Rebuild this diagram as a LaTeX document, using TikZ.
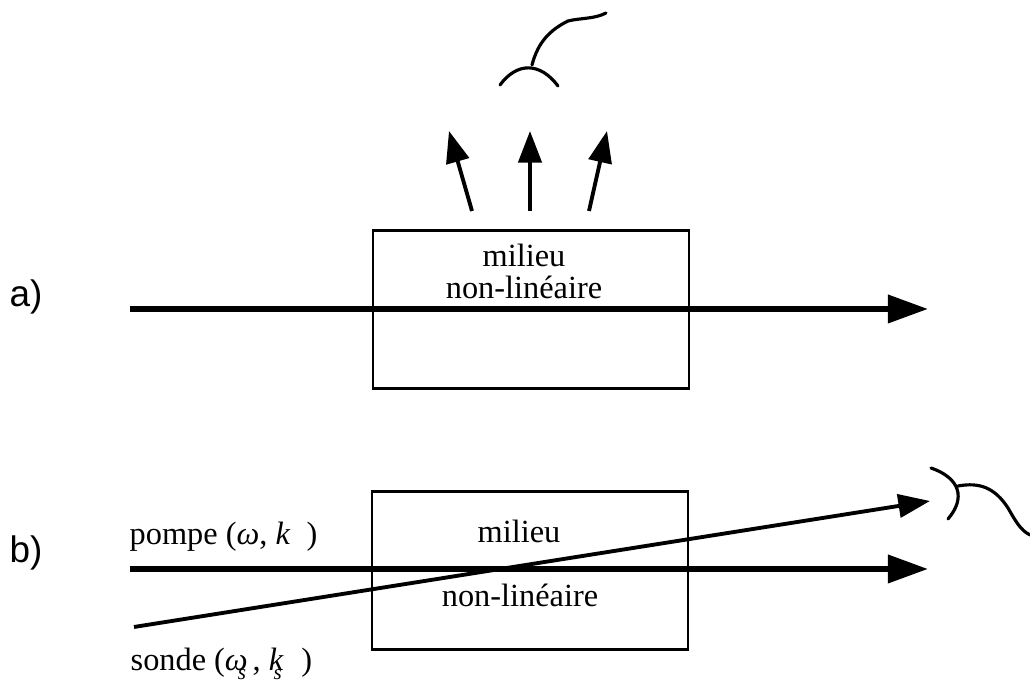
\documentclass[tikz,border=0pt]{standalone}
\usepackage{fontspec}
\setmainfont{Liberation Serif}
\newfontfamily\labelfont{Liberation Sans}
\usetikzlibrary{arrows.meta}
\tikzset{
  milieu/.style={draw,line width=.75pt,minimum width=3.16cm,minimum height=1.58cm,inner sep=0pt},
  beam/.style={line width=1.6pt,-{Triangle[length=11.4pt,width=7.8pt]}},
  thinbeam/.style={line width=1.1pt,-{Triangle[length=9pt,width=6.6pt]}},
  wire/.style={line width=.9pt,line cap=round},
  txt/.style={font=\fontsize{9.2}{9.1}\selectfont,inner sep=0pt,align=center},
  letter/.style={font=\labelfont\fontsize{10.5}{12}\selectfont,inner sep=0pt}
}
\newcommand{\sindex}{\llap{\raisebox{-.6ex}{\fontsize{6}{6}\selectfont\itshape s\hspace{.5pt}}}}
\begin{document}
\begin{tikzpicture}
\useasboundingbox (0,0) rectangle (10.30,6.82);
\node[letter] (la) at (.26,3.85) {a)};
\node[letter] (lb) at (.26,1.29) {b)};
\node[milieu] (boxa) at (5.31,3.725) {};
\node[milieu] (boxb) at (5.30,1.115) {};
\node[txt] (texta) at (5.24,4.11) {milieu\\non-linéaire};
\node[txt,anchor=base] (textb1) at (5.19,1.39) {milieu};
\node[txt,anchor=base] (textb2) at (5.20,.75) {non-linéaire};
\node[txt,anchor=base west] (pompe) at (1.29,1.37) {pompe (\textit{ω}, \textit{k}\hspace{.5em})};
\node[txt,anchor=base west] (sonde) at (1.30,.11) {sonde (\textit{ω}\sindex\hspace{.15em}, \textit{k}\sindex\hspace{.55em})};
% beams
\coordinate (a0) at (1.30,3.73);
\coordinate (a1) at (9.28,3.73);
\coordinate (p0) at (1.30,1.13);
\coordinate (p1) at (9.28,1.13);
\coordinate (s0) at (1.34,.55);
\coordinate (s1) at (9.30,1.81);
\draw[beam] (a0)--(a1);
\draw[beam] (p0)--(p1);
\draw[thinbeam] (s0)--(s1);
% scattered light
\coordinate (u1) at (4.72,4.71);
\coordinate (v1) at (4.49,5.51);
\coordinate (u2) at (5.30,4.71);
\coordinate (v2) at (5.30,5.51);
\coordinate (u3) at (5.89,4.71);
\coordinate (v3) at (6.07,5.51);
\draw[thinbeam] (u1)--(v1);
\draw[thinbeam] (u2)--(v2);
\draw[thinbeam] (u3)--(v3);
% detectors
\coordinate (d1) at (5.00,5.97);
\coordinate (d2) at (5.58,5.96);
\coordinate (d3) at (5.32,6.17);
\coordinate (d4) at (6.06,6.69);
\draw[wire] (d1)..controls (5.17,6.20) and (5.40,6.20)..(d2);
\draw[wire] (d3)..controls (5.38,6.40) and (5.50,6.52)..(5.68,6.61)..controls (5.80,6.64) and (5.95,6.63)..(d4);
\coordinate (e1) at (9.31,6.82-4.68);
\coordinate (e2) at (9.48,6.82-5.19);
\coordinate (e3) at (9.58,6.82-4.86);
\coordinate (e4) at (10.30,6.82-5.35);
\draw[wire] (e1)..controls (9.60,6.82-4.78) and (9.66,6.82-4.98)..(e2);
\draw[wire] (e3)..controls (9.80,6.82-4.82) and (9.95,6.82-4.88)..(10.08,6.82-5.08)..controls (10.15,6.82-5.20) and (10.20,6.82-5.30)..(e4);
\end{tikzpicture}
\end{document}
